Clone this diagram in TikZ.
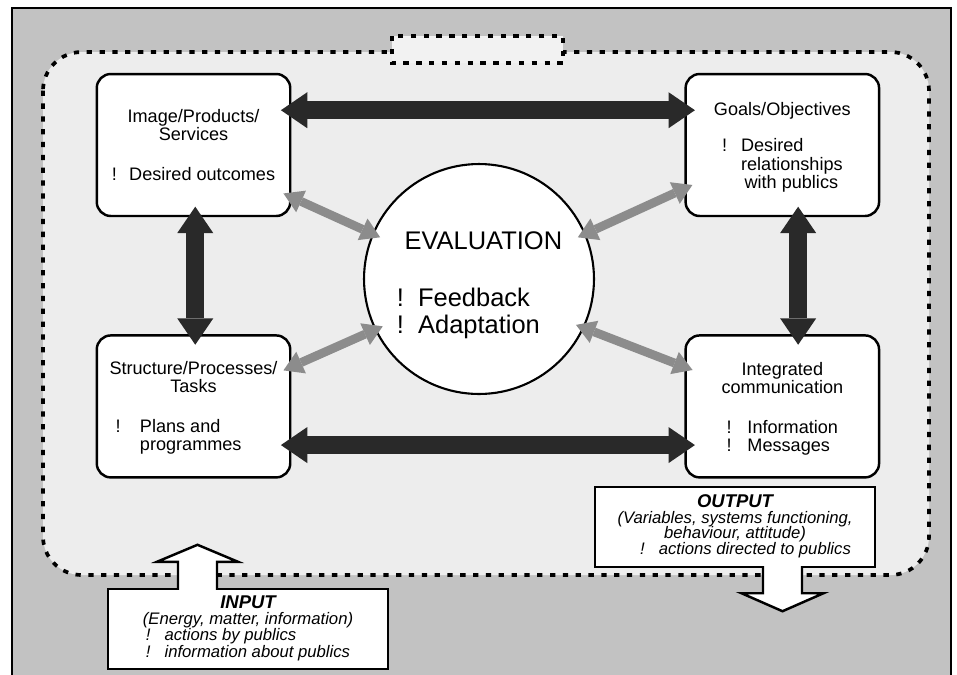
\documentclass[tikz,border=0pt]{standalone}
\usepackage{fontspec}
\setmainfont{Liberation Sans}
\usepackage{xcolor}
\usepackage{tikz}
\usetikzlibrary{arrows.meta,positioning,calc}

\definecolor{outergray}{gray}{0.76}
\definecolor{innergray}{gray}{0.93}
\definecolor{tabgray}{gray}{0.95}
\definecolor{darkarrow}{gray}{0.16}
\definecolor{lightarrow}{gray}{0.55}

\begin{document}
\begin{tikzpicture}[
    x=0.02cm, y=-0.02cm,
    card/.style={rectangle, draw, line width=1.4pt, rounded corners=8pt, fill=white, minimum width=3.87cm, minimum height=2.84cm, align=center, font=\fontsize{10.3}{10.2}\selectfont},
    evalnode/.style={circle, draw, line width=1.2pt, fill=white, minimum size=4.6cm, align=center, font=\fontsize{14.5}{15.3}\selectfont},
    iobox/.style={rectangle, draw, line width=1.4pt, fill=white, minimum width=5.6cm, minimum height=1.6cm, inner sep=0pt, align=center, font=\itshape\fontsize{9.5}{9}\selectfont},
    bigarrow/.style={{Triangle[length=15pt,width=20.5pt,line width=0pt]}-{Triangle[length=15pt,width=20.5pt,line width=0pt]}, line width=10.3pt, draw=darkarrow, shorten <=-6pt, shorten >=-6pt},
    grayarrow/.style={{Triangle[length=11pt,width=13.5pt,line width=0pt]}-{Triangle[length=11pt,width=13.5pt,line width=0pt]}, line width=5pt, draw=lightarrow, shorten <=-5pt, shorten >=-5pt},
    blockarrow/.style={draw, line width=1.4pt, fill=white, line join=miter},
    dotline/.style={line width=2.1pt, dash pattern=on 3pt off 4.3pt}
]

% Frame
\useasboundingbox (0,0) rectangle (957,674);
\fill[white] (0,0) rectangle (957,674);
\clip (0,0) rectangle (957,674);
\draw[line width=1.6pt, fill=outergray] (12,8) rectangle (951,700);

% System boundary
\draw[dotline, fill=innergray, rounded corners=22pt] (43,52) rectangle (929,575);
\draw[dotline, fill=tabgray] (392,36) rectangle (563,63);

% Boxes
\node[card] (img) at (193.5,145) {Image/Products/\\Services\\[12.5pt]!\hspace{7pt}Desired outcomes};
\node[card, right=7.86cm of img] (goals) {\rule{0pt}{11pt}Goals/Objectives\\[10.8pt]\begin{tabular}[t]{@{}l@{\hspace{8pt}}l@{}}!&Desired\\&relationships\\&\hspace{2pt}with publics\end{tabular}};
\node[card, below=2.34cm of img] (struct) {\rule{0pt}{10pt}Structure/Processes/\\Tasks\\[12.5pt]\begin{tabular}[t]{@{}l@{\hspace{11pt}}l@{}}!&Plans and\\&programmes\end{tabular}\hspace*{17pt}};
\node[card, below=2.34cm of goals] (integ) {\rule{0pt}{11pt}Integrated\\communication\\[12.5pt]\begin{tabular}[t]{@{}l@{\hspace{9pt}}l@{}}!&Information\\!&Messages\end{tabular}};

% Evaluation
\node[evalnode] (eval) at (479,279) {\hspace*{5pt}\rule{0pt}{18.5pt}EVALUATION\\[17pt]\begin{tabular}[t]{@{}l@{\hspace{8pt}}l@{}}!&Feedback\\!&Adaptation\end{tabular}\hspace*{12pt}};

% Input and output
\node[iobox] (inbox) at (248,629) {{\bfseries\fontsize{10.5}{9}\selectfont INPUT}\\(Energy, matter, information)\\\begin{tabular}[t]{@{}l@{\hspace{8pt}}l@{}}!&actions by publics\\!&information about publics\end{tabular}};
\node[iobox] (outbox) at (735,527) {{\bfseries\fontsize{10.5}{9}\selectfont OUTPUT}\\(Variables, systems functioning,\\behaviour, attitude)\hspace*{18pt}\\\hspace*{12pt}\begin{tabular}[t]{@{}l@{\hspace{8pt}}l@{}}!&actions directed to publics\end{tabular}};

% Arrows
\draw[bigarrow] ([yshift=19.8pt]img.east) -- ([yshift=19.8pt]goals.west);
\draw[bigarrow] ([yshift=-22pt]struct.east) -- ([yshift=-22pt]integ.west);
\draw[bigarrow] ([xshift=1pt]img.south) -- ([xshift=1pt]struct.north);
\draw[bigarrow] ([xshift=9pt]goals.south) -- ([xshift=9pt]integ.north);

\draw[grayarrow] (img.-28) -- (eval.157);
\draw[grayarrow] (goals.204) -- (eval.23);
\draw[grayarrow] (struct.22) -- (eval.206);
\draw[grayarrow] (integ.158) -- (eval.-25);

% Block arrows
\path (inbox.north) ++(-70,2) coordinate (ina);
\filldraw[blockarrow] (ina) -- ++(0,-28) -- ++(-21,0) -- ++(40.5,-17) -- ++(40.5,17) -- ++(-21,0) -- ++(0,28);
\path (outbox.south) ++(28,-2) coordinate (outa);
\filldraw[blockarrow] (outa) -- ++(0,27) -- ++(-21.5,0) -- ++(41,18) -- ++(41,-18) -- ++(-21.5,0) -- ++(0,-27);

\end{tikzpicture}
\end{document}
